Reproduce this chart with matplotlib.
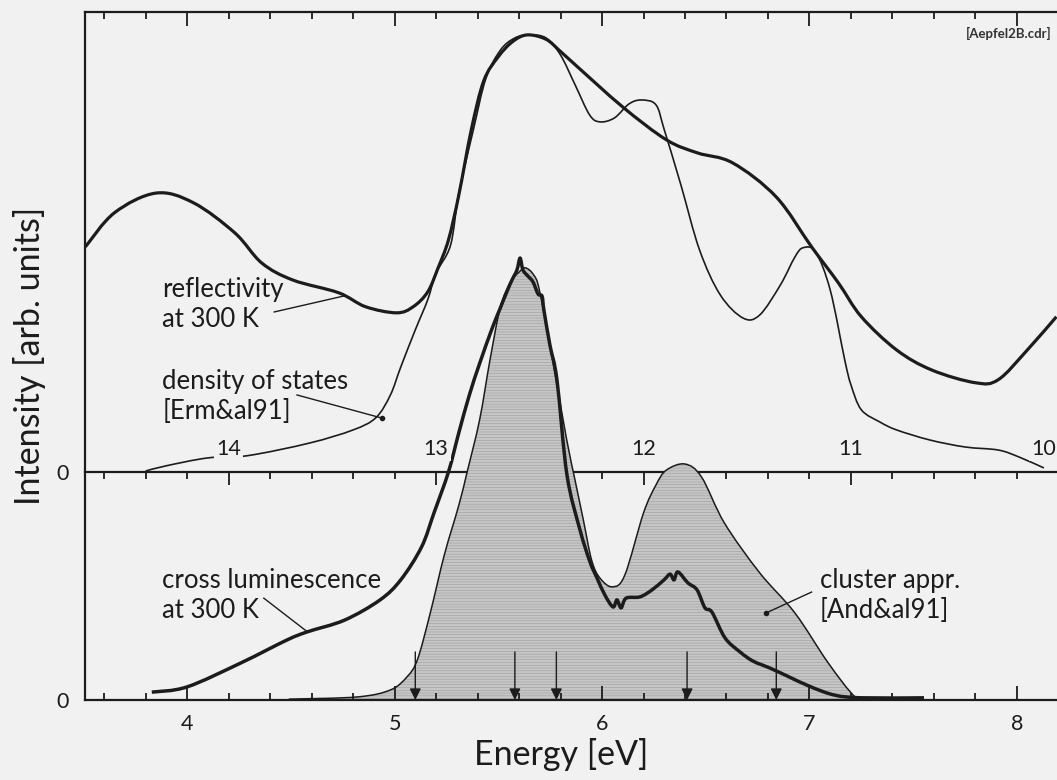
import numpy as np
import matplotlib
matplotlib.use('Agg')
import matplotlib.pyplot as plt
from matplotlib.path import Path
from matplotlib.patches import PathPatch
from matplotlib.ticker import MultipleLocator, FixedLocator

plt.rcParams['font.family'] = ['Lato', 'DejaVu Sans']
plt.rcParams['hatch.linewidth'] = 0.4

# upper panel: reflectivity and density of states vs excitation energy (top scale)
refl_e = [3.51, 3.65, 3.85, 4.03, 4.23, 4.36, 4.51, 4.73, 4.86, 5.01, 5.09, 5.16, 5.21,
          5.26, 5.31, 5.37, 5.43, 5.50, 5.57, 5.64, 5.73, 5.80, 5.87, 6.10, 6.31, 6.46,
          6.63, 6.84, 7.01, 7.14, 7.25, 7.42, 7.59, 7.80, 7.91, 8.05, 8.19]
refl_i = [0.515, 0.593, 0.638, 0.616, 0.547, 0.478, 0.439, 0.410, 0.378, 0.364, 0.378,
          0.412, 0.467, 0.531, 0.634, 0.783, 0.895, 0.950, 0.985, 1.000, 0.990, 0.962,
          0.932, 0.835, 0.760, 0.730, 0.707, 0.629, 0.515, 0.432, 0.355, 0.279, 0.233,
          0.204, 0.211, 0.279, 0.355]

dos_e = [3.80, 3.90, 4.10, 4.29, 4.59, 4.80, 4.91, 4.98, 5.03, 5.10, 5.16, 5.20, 5.27,
         5.31, 5.38, 5.44, 5.51, 5.58, 5.65, 5.73, 5.80, 5.87, 5.94, 5.99, 6.06, 6.13,
         6.19, 6.26, 6.30, 6.38, 6.47, 6.57, 6.68, 6.76, 6.86, 6.93, 6.97, 7.03, 7.10,
         7.17, 7.20, 7.25, 7.34, 7.42, 7.58, 7.75, 7.91, 8.01, 8.13]
dos_i = [0.002, 0.014, 0.032, 0.037, 0.066, 0.096, 0.124, 0.176, 0.240, 0.325, 0.394,
         0.455, 0.519, 0.638, 0.783, 0.900, 0.965, 0.993, 1.000, 0.993, 0.954, 0.886,
         0.817, 0.801, 0.810, 0.842, 0.851, 0.840, 0.783, 0.657, 0.508, 0.405, 0.352,
         0.359, 0.428, 0.492, 0.513, 0.503, 0.416, 0.256, 0.199, 0.142, 0.114, 0.096,
         0.073, 0.057, 0.050, 0.034, 0.009]

# lower panel: cross luminescence at 300 K and cluster calculation
cl_e = [3.83, 4.00, 4.26, 4.48, 4.58, 4.76, 4.93, 5.03, 5.13, 5.19, 5.26, 5.31, 5.36,
        5.41, 5.47, 5.508, 5.542, 5.566, 5.590, 5.605, 5.619, 5.643, 5.667, 5.692, 5.711,
        5.720, 5.749, 5.783, 5.831, 5.894, 5.942, 5.976, 6.014, 6.053, 6.072, 6.092, 6.116,
        6.183, 6.241, 6.299, 6.328, 6.347, 6.366, 6.414, 6.458, 6.496, 6.530, 6.593, 6.665,
        6.728, 6.810, 6.892, 7.007, 7.123, 7.253, 7.552]
cl_i = [0.018, 0.030, 0.085, 0.137, 0.156, 0.183, 0.229, 0.275, 0.350, 0.428, 0.522,
        0.612, 0.697, 0.770, 0.850, 0.895, 0.935, 0.961, 0.984, 1.011, 0.984, 0.970,
        0.957, 0.929, 0.924, 0.892, 0.812, 0.732, 0.515, 0.389, 0.316, 0.279, 0.240,
        0.213, 0.229, 0.211, 0.233, 0.236, 0.252, 0.275, 0.288, 0.275, 0.293, 0.268,
        0.252, 0.211, 0.201, 0.142, 0.110, 0.089, 0.073, 0.055, 0.030, 0.011, 0.005, 0.005]

clu_e = [4.49, 4.82, 4.98, 5.06, 5.11, 5.17, 5.24, 5.31, 5.35, 5.41, 5.46, 5.51, 5.56,
         5.60, 5.63, 5.67, 5.70, 5.77, 5.83, 5.87, 5.91, 5.95, 5.99, 6.05, 6.11, 6.20,
         6.26, 6.31, 6.40, 6.48, 6.59, 6.76, 6.93, 7.09, 7.22, 7.29]
clu_i = [0.002, 0.007, 0.023, 0.053, 0.092, 0.195, 0.332, 0.446, 0.522, 0.641, 0.778,
         0.899, 0.957, 0.979, 0.989, 0.973, 0.934, 0.755, 0.595, 0.503, 0.412, 0.320,
         0.279, 0.259, 0.286, 0.428, 0.492, 0.526, 0.540, 0.510, 0.405, 0.291, 0.199,
         0.085, 0.007, 0.0]

arrow_e = [5.10, 5.58, 5.78, 6.41, 6.84]
top_labels = [14, 13, 12, 11, 10]
e_sum = 18.2          # top scale: E_exc = e_sum - E_em

base = 0.522          # baseline of the upper panel
ymax = 1.5744
ink = '#1c1c1c'
bg = '#f1f1f1'


def smooth_path(x, y, closed_to=None):
    """Catmull-Rom curve through the points, as cubic Bezier segments."""
    p = np.column_stack([x, y]).astype(float)
    ext = np.vstack([p[0], p, p[-1]])
    verts = [p[0]]
    codes = [Path.MOVETO]
    for i in range(1, len(ext) - 2):
        c1 = ext[i] + (ext[i + 1] - ext[i - 1]) / 6.0
        c2 = ext[i + 1] - (ext[i + 2] - ext[i]) / 6.0
        verts += [c1, c2, ext[i + 1]]
        codes += [Path.CURVE4] * 3
    if closed_to is not None:
        verts += [(x[-1], closed_to), (x[0], closed_to), p[0]]
        codes += [Path.LINETO, Path.LINETO, Path.CLOSEPOLY]
    return Path(verts, codes)


fig = plt.figure(figsize=(10.57, 7.80), dpi=100, facecolor=bg)
ax = fig.add_axes([85/1057, 80/780, 972/1057, 688/780], facecolor=bg)
ax.set_xlim(3.508, 8.193)
ax.set_ylim(0, ymax)

# shaded cluster approximation
ax.add_patch(PathPatch(smooth_path(clu_e, clu_i, closed_to=0.0), facecolor='#c6c6c6',
                       edgecolor='#9c9c9c', hatch='------', linewidth=0, zorder=1))
ax.add_patch(PathPatch(smooth_path(clu_e, clu_i), fill=False, edgecolor=ink, lw=1.1, zorder=3))
ax.add_patch(PathPatch(smooth_path(cl_e, cl_i), fill=False, edgecolor=ink, lw=2.5, zorder=4))

ax.add_patch(PathPatch(smooth_path(refl_e, base + np.array(refl_i)), fill=False,
                       edgecolor=ink, lw=2.3, zorder=4))
ax.add_patch(PathPatch(smooth_path(dos_e, base + np.array(dos_i)), fill=False,
                       edgecolor=ink, lw=1.2, zorder=4))

for e in arrow_e:
    ax.annotate('', xy=(e, 0.0), xytext=(e, 0.11),
                arrowprops=dict(arrowstyle='-|>', color=ink, lw=1.0,
                                mutation_scale=17, shrinkA=0, shrinkB=0), zorder=5)

# baseline of upper panel with the excitation energy scale
sec = ax.secondary_xaxis(base / ymax, functions=(lambda x: e_sum - x, lambda x: e_sum - x))
sec.xaxis.set_major_locator(FixedLocator(top_labels))
sec.xaxis.set_minor_locator(MultipleLocator(0.2))
sec.tick_params(which='both', direction='out', labelbottom=False, width=1.3, color=ink)
sec.tick_params(which='major', length=9)
sec.tick_params(which='minor', length=5)
sec.spines['bottom'].set_linewidth(1.6)
sec.spines['bottom'].set_color(ink)
for lab in top_labels:
    if lab == 10:
        xe, ha = 8.188, 'right'
    else:
        xe, ha = e_sum - lab, 'center'
    ax.text(xe, base + 0.03, str(lab), ha=ha, va='bottom', fontsize=15.5, color=ink,
            bbox=dict(facecolor=bg, edgecolor='none', pad=1.5), zorder=6)

# frame and emission energy scale
ax.xaxis.set_major_locator(MultipleLocator(1))
ax.xaxis.set_minor_locator(MultipleLocator(0.2))
ax.tick_params(axis='x', which='both', direction='in', top=True, bottom=True,
               width=1.3, color=ink, labelsize=15.5, pad=10, labelcolor=ink)
ax.tick_params(axis='x', which='major', length=10)
ax.tick_params(axis='x', which='minor', length=5)
ax.set_yticks([0, base])
ax.set_yticklabels(['0', '0'])
ax.tick_params(axis='y', length=0, labelsize=15.5, pad=12, labelcolor=ink)
ax.spines['right'].set_visible(False)
for s in ['left', 'top', 'bottom']:
    ax.spines[s].set_linewidth(1.6)
    ax.spines[s].set_color(ink)

ax.set_xlabel('Energy [eV]', fontsize=24.5, color=ink)
ax.xaxis.set_label_coords((561 - 85) / 972, -0.055)
ax.set_ylabel('Intensity [arb. units]', fontsize=24.5, color=ink, labelpad=7)

# curve labels
tk = dict(fontsize=18.5, color=ink, ha='left', va='center', linespacing=1.25)
ax.text(3.88, 0.905, 'reflectivity\nat 300 K', **tk)
ax.plot([4.42, 4.76], [0.888, 0.925], color=ink, lw=1.0)
ax.text(3.88, 0.694, 'density of states\n[Erm&al91]', **tk)
ax.plot([4.53, 4.94], [0.698, 0.645], color=ink, lw=1.0)
ax.plot([4.94], [0.645], 'o', color=ink, ms=3)
ax.text(3.88, 0.238, 'cross luminescence\nat 300 K', **tk)
ax.plot([4.37, 4.58], [0.233, 0.156], color=ink, lw=1.0)
ax.text(7.05, 0.238, 'cluster appr.\n[And&al91]', **tk)
ax.plot([7.01, 6.79], [0.247, 0.199], color=ink, lw=1.0)
ax.plot([6.79], [0.199], 'o', color=ink, ms=3)

fig.text(1052/1057, 1 - 33/780, '[Aepfel2B.cdr]', ha='right', va='center',
         fontsize=9.5, fontweight='bold', color='#333333')

fig.savefig('out.png', dpi=100, facecolor=bg)
